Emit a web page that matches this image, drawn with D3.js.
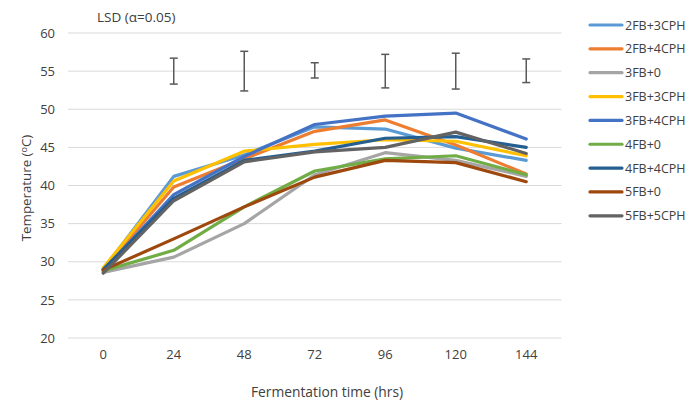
<!DOCTYPE html>
<html><head><meta charset="utf-8">
<script src="https://cdn.jsdelivr.net/npm/d3@7"></script>
<style>body{margin:0;background:#fff}svg{display:block}text{font-family:"Open Sans",sans-serif;fill:#404040}</style>
</head><body><svg id="c" width="700" height="403"></svg>
<script>
const categories = ["0","24","48","72","96","120","144"];
const seriesNames = ["2FB+3CPH","2FB+4CPH","3FB+0","3FB+3CPH","3FB+4CPH","4FB+0","4FB+4CPH","5FB+0","5FB+5CPH"];
const colors = ["#5B9BD5","#ED7D31","#A5A5A5","#FFC000","#4472C4","#70AD47","#255E91","#9E480E","#636363"];
const s2FB3CPH = [29.0,41.2,44.0,47.7,47.4,44.9,43.3];
const s2FB4CPH = [29.0,39.8,43.5,47.1,48.6,45.3,41.5];
const s3FB0    = [28.6,30.6,35.0,41.4,44.3,43.3,41.2];
const s3FB3CPH = [29.2,40.6,44.5,45.4,46.0,45.8,43.9];
const s3FB4CPH = [28.8,38.8,43.8,48.0,49.1,49.5,46.1];
const s4FB0    = [28.8,31.5,37.2,41.9,43.5,43.9,41.4];
const s4FB4CPH = [29.0,38.3,43.3,44.5,46.2,46.4,45.0];
const s5FB0    = [28.9,33.0,37.2,41.1,43.3,43.0,40.5];
const s5FB5CPH = [28.5,38.0,43.1,44.4,45.0,47.0,44.2];
const seriesValues = [s2FB3CPH,s2FB4CPH,s3FB0,s3FB3CPH,s3FB4CPH,s4FB0,s4FB4CPH,s5FB0,s5FB5CPH];
const lsdCenter = [null,55,55,55.1,55,55,55.05];
const lsdHalf   = [null,1.7,2.6,1.0,2.2,2.35,1.55];
const yTicks = [20,25,30,35,40,45,50,55,60];

const svg = d3.select("#c");
const x = d3.scaleBand().domain(categories).range([68,561.5]);
const y = d3.scaleLinear().domain([20,60]).range([338,33]);
const cx = d => x(d) + x.bandwidth()/2;

// gridlines
svg.append("g").selectAll("line").data(yTicks).join("line")
  .attr("x1",68).attr("x2",561.5).attr("y1",d=>y(d)).attr("y2",d=>y(d))
  .attr("stroke","#D9D9D9").attr("stroke-width",1);

// y axis labels
const ya = svg.append("g").attr("transform","translate(68,0)")
  .call(d3.axisLeft(y).tickValues(yTicks).tickSize(0).tickPadding(13));
ya.select(".domain").remove();
ya.selectAll("text").style("font-family","'Open Sans',sans-serif").style("font-size","13px").attr("fill","#404040");

// x axis labels
const xa = svg.append("g").attr("transform","translate(0,338)")
  .call(d3.axisBottom(x).tickSize(0).tickPadding(12));
xa.select(".domain").remove();
xa.selectAll("text").style("font-family","'Open Sans',sans-serif").style("font-size","13px").attr("fill","#404040");

// titles
svg.append("text").attr("x",327).attr("y",397).attr("text-anchor","middle").style("font-size","13.8px").text("Fermentation time (hrs)");
const yt = svg.append("text").attr("transform","translate(31,188) rotate(-90)").attr("text-anchor","middle").style("font-size","13.3px");
yt.append("tspan").text("Temperature (");
yt.append("tspan").attr("dy",-4).style("font-size","9px").text("o");
yt.append("tspan").attr("dy",4).text("C)");
svg.append("text").attr("x",97).attr("y",22).style("font-size","13.5px").text("LSD (α=0.05)");

// lines
const line = d3.line().x((d,i)=>cx(categories[i])).y(d=>y(d));
svg.append("g").selectAll("path").data(seriesValues).join("path")
  .attr("d",d=>line(d)).attr("fill","none")
  .attr("stroke",(d,i)=>colors[i]).attr("stroke-width",3.2)
  .attr("stroke-linejoin","round").attr("stroke-linecap","round");

// LSD bars
const eb = svg.append("g").attr("stroke","#595959").attr("stroke-width",1.5);
categories.forEach((c,i)=>{
  if(lsdCenter[i]==null) return;
  const t = y(lsdCenter[i]+lsdHalf[i]), b = y(lsdCenter[i]-lsdHalf[i]), xx = cx(c);
  eb.append("line").attr("x1",xx).attr("x2",xx).attr("y1",t).attr("y2",b);
  eb.append("line").attr("x1",xx-4).attr("x2",xx+4).attr("y1",t).attr("y2",t);
  eb.append("line").attr("x1",xx-4).attr("x2",xx+4).attr("y1",b).attr("y2",b);
});

// legend
const lg = svg.append("g").selectAll("g").data(seriesNames).join("g")
  .attr("transform",(d,i)=>`translate(590,${25+i*23.85})`);
lg.append("line").attr("x1",0).attr("x2",32).attr("stroke",(d,i)=>colors[i]).attr("stroke-width",3.2).attr("stroke-linecap","round");
lg.append("text").attr("x",35).attr("y",4.5).style("font-size","12.5px").text(d=>d);
</script></body></html>
